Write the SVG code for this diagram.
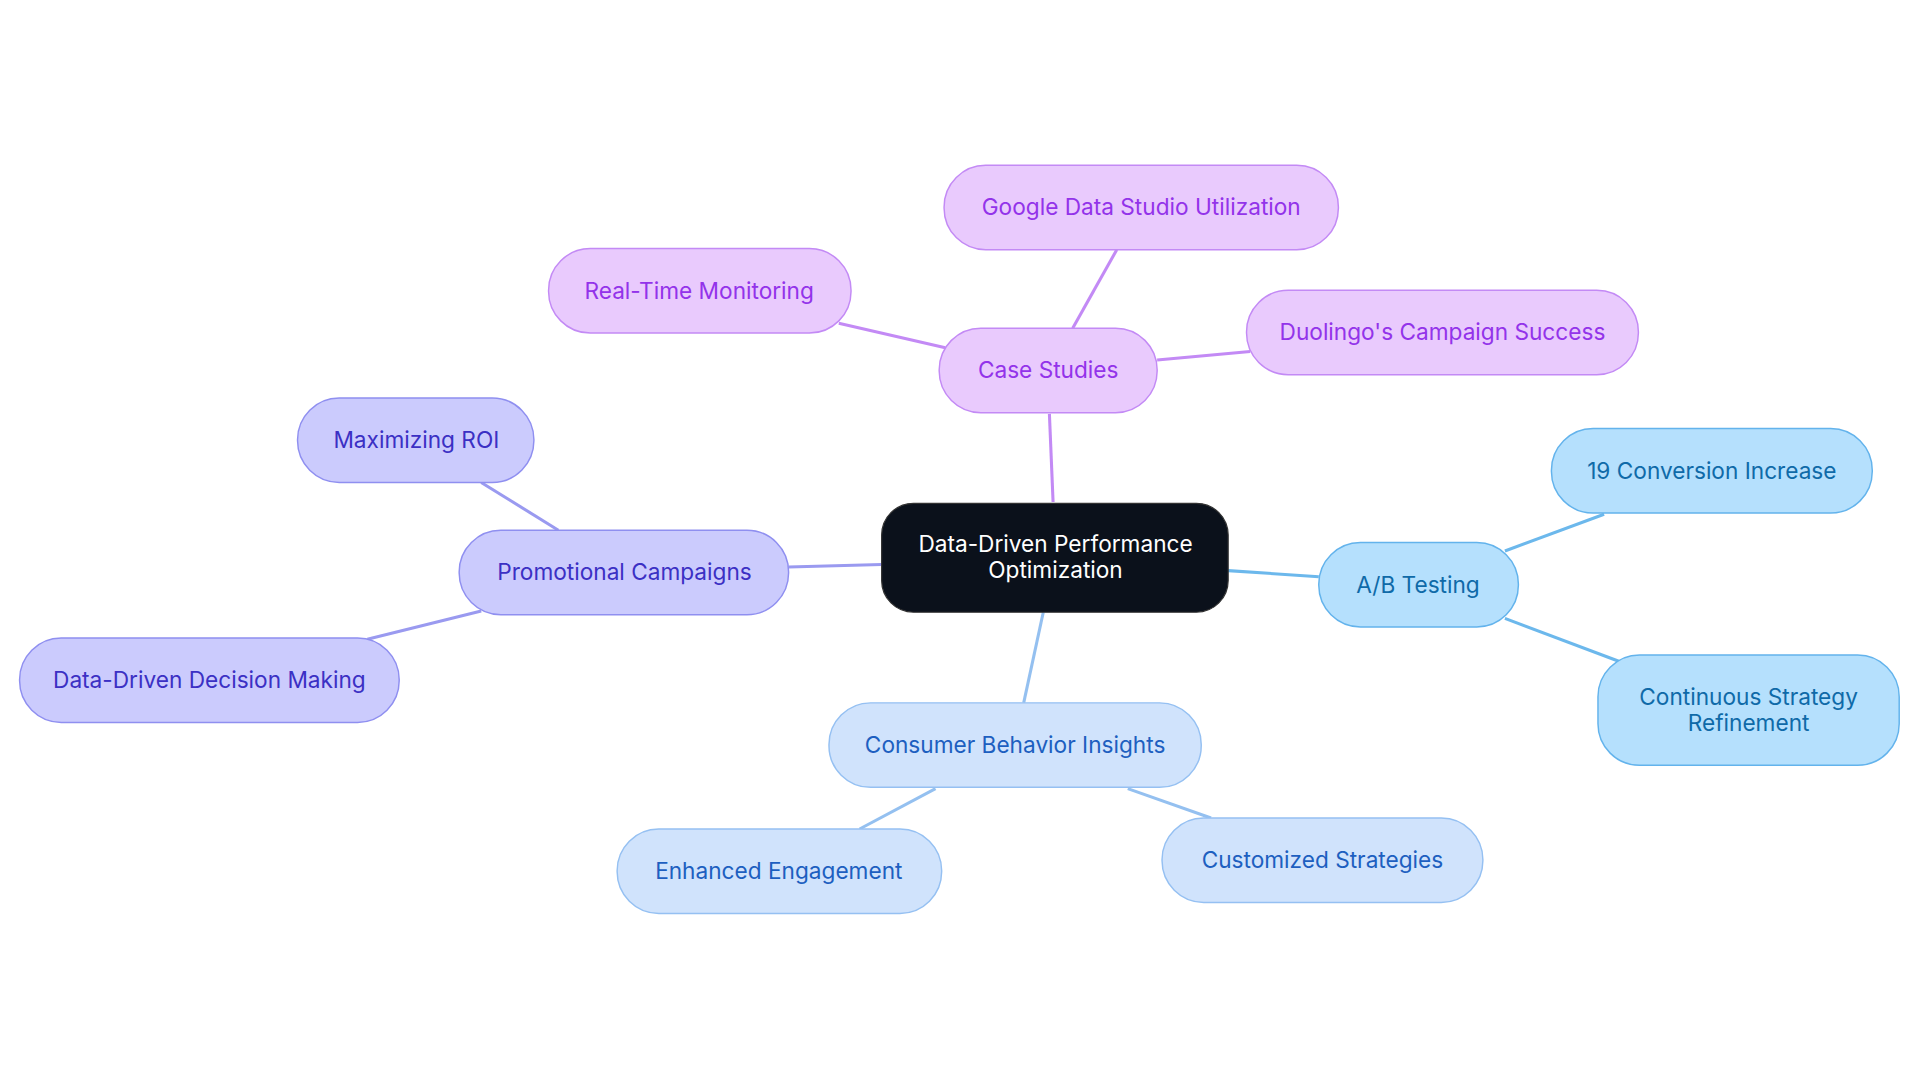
<svg xmlns="http://www.w3.org/2000/svg" width="1920" height="1083" viewBox="0 0 1920 1083">
<style>
text{font-family:Inter,"Liberation Sans",sans-serif;font-size:18.5px;text-anchor:middle;dominant-baseline:central}
.p rect{fill:#e9cafd;stroke:#c38af5;stroke-width:1.2}.p text{fill:#9333ea}
.v rect{fill:#cbcbfd;stroke:#8f8ff0;stroke-width:1.2}.v text{fill:#3b30c4}
.s rect{fill:#b5e0fd;stroke:#63b3ec;stroke-width:1.2}.s text{fill:#0f6aa8}
.b rect{fill:#d0e3fc;stroke:#95c0f2;stroke-width:1.2}.b text{fill:#1d5fc0}
#conn line{stroke-width:2.5}
</style>
<rect width="1920" height="1083" fill="#fff"/>
<g transform="scale(1.2245)">
<g id="conn">
<g stroke="#c38af5"><line x1="860" y1="410" x2="857" y2="338"/><line x1="876" y1="268" x2="912" y2="204"/><line x1="772" y1="284" x2="685" y2="264"/><line x1="945" y1="294" x2="1021" y2="287"/></g>
<g stroke="#9a9af0"><line x1="720" y1="461" x2="644" y2="463"/><line x1="456" y1="433" x2="393" y2="394"/><line x1="393" y1="499" x2="300" y2="522"/></g>
<g stroke="#6cb8ec"><line x1="1003" y1="466" x2="1077" y2="471"/><line x1="1229" y1="450" x2="1310" y2="420"/><line x1="1229" y1="505" x2="1322" y2="540"/></g>
<g stroke="#94c0f0"><line x1="852" y1="500" x2="836" y2="574"/><line x1="764" y1="644" x2="702" y2="677"/><line x1="921" y1="644" x2="989" y2="668"/></g>
</g>
<g id="center"><rect x="720" y="411" width="283" height="89" rx="26" fill="#0b111b" stroke="#333" stroke-width="1"/><text x="862" y="444" fill="#fff">Data-Driven Performance</text><text x="862" y="465" fill="#fff">Optimization</text></g>
<g id="case" class="p"><rect x="767" y="268" width="178" height="69" rx="34"/><text x="856" y="302">Case Studies</text></g>
<g id="google" class="p"><rect x="771" y="135" width="322" height="69" rx="34"/><text x="932" y="169">Google Data Studio Utilization</text></g>
<g id="realtime" class="p"><rect x="448" y="203" width="247" height="69" rx="34"/><text x="571" y="237">Real-Time Monitoring</text></g>
<g id="duolingo" class="p"><rect x="1018" y="237" width="320" height="69" rx="34"/><text x="1178" y="271">Duolingo's Campaign Success</text></g>
<g id="promo" class="v"><rect x="375" y="433" width="269" height="69" rx="34"/><text x="510" y="467">Promotional Campaigns</text></g>
<g id="roi" class="v"><rect x="243" y="325" width="193" height="69" rx="34"/><text x="340" y="359">Maximizing ROI</text></g>
<g id="ddm" class="v"><rect x="16" y="521" width="310" height="69" rx="34"/><text x="171" y="555">Data-Driven Decision Making</text></g>
<g id="ab" class="s"><rect x="1077" y="443" width="163" height="69" rx="34"/><text x="1158" y="477">A/B Testing</text></g>
<g id="conv" class="s"><rect x="1267" y="350" width="262" height="69" rx="34"/><text x="1398" y="384">19 Conversion Increase</text></g>
<g id="cont" class="s"><rect x="1305" y="535" width="246" height="90" rx="34"/><text x="1428" y="569">Continuous Strategy</text><text x="1428" y="590">Refinement</text></g>
<g id="cbi" class="b"><rect x="677" y="574" width="304" height="69" rx="34"/><text x="829" y="608">Consumer Behavior Insights</text></g>
<g id="enh" class="b"><rect x="504" y="677" width="265" height="69" rx="34"/><text x="636" y="711">Enhanced Engagement</text></g>
<g id="cust" class="b"><rect x="949" y="668" width="262" height="69" rx="34"/><text x="1080" y="702">Customized Strategies</text></g>
</g>
</svg>
